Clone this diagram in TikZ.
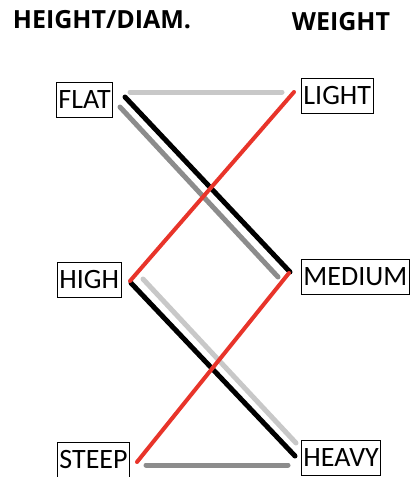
\documentclass[tikz,border=0pt]{standalone}
\usepackage{fontspec}
\setmainfont{Carlito}
\newfontfamily\titlefont{Open Sans}
\definecolor{redline}{RGB}{232,52,42}
\definecolor{lightline}{RGB}{200,200,200}
\definecolor{darkline}{RGB}{140,140,140}
\begin{document}
\begin{tikzpicture}[x=1pt,y=-1pt,
  box/.style={draw=black,line width=0.9pt,inner xsep=2pt,inner ysep=0pt,minimum height=35pt,font=\fontsize{28}{28}\selectfont,anchor=west},
  ttl/.style={font=\titlefont\bfseries\fontsize{25}{25}\selectfont,inner sep=0pt},
  conn/.style={line width=5pt,line cap=round},
  thin conn/.style={line width=4pt,line cap=round}]
\useasboundingbox (0,0) rectangle (410,477);
\node[ttl] (t1) at (102,20) {HEIGHT/DIAM.};
\node[ttl] (t2) at (341,22) {WEIGHT};
\node[box] (flat) at (56,100) {FLAT};
\node[box] (light) at (301,96) {LIGHT};
\node[box] (high) at (57,280) {HIGH};
\node[box] (medium) at (301,277) {MEDIUM};
\node[box] (steep) at (57,460) {STEEP};
\node[box] (heavy) at (301,458) {HEAVY};
% connector end points
\coordinate (flatA) at (130,92);
\coordinate (lightA) at (282,92);
\coordinate (lightB) at (294,92);
\coordinate (flatB) at (125,97);
\coordinate (flatC) at (120,107);
\coordinate (medB) at (290,272);
\coordinate (medC) at (278,277);
\coordinate (medA) at (289,273);
\coordinate (highA) at (130,281);
\coordinate (highB) at (131,283);
\coordinate (highC) at (143,279);
\coordinate (heavyB) at (295,456);
\coordinate (heavyC) at (296,443);
\coordinate (steepA) at (137,462);
\coordinate (steepB) at (146,465);
\coordinate (heavyA) at (288,465);
% lines
\draw[conn,lightline] (flatA) -- (lightA);
\draw[conn,darkline] (flatC) -- (medC);
\draw[conn,black] (flatB) -- (medB);
\draw[conn,lightline] (highC) -- (heavyC);
\draw[conn,black] (highB) -- (heavyB);
\draw[conn,darkline] (steepB) -- (heavyA);
\draw[thin conn,redline] (highA) -- (lightB);
\draw[thin conn,redline] (steepA) -- (medA);
\end{tikzpicture}
\end{document}
